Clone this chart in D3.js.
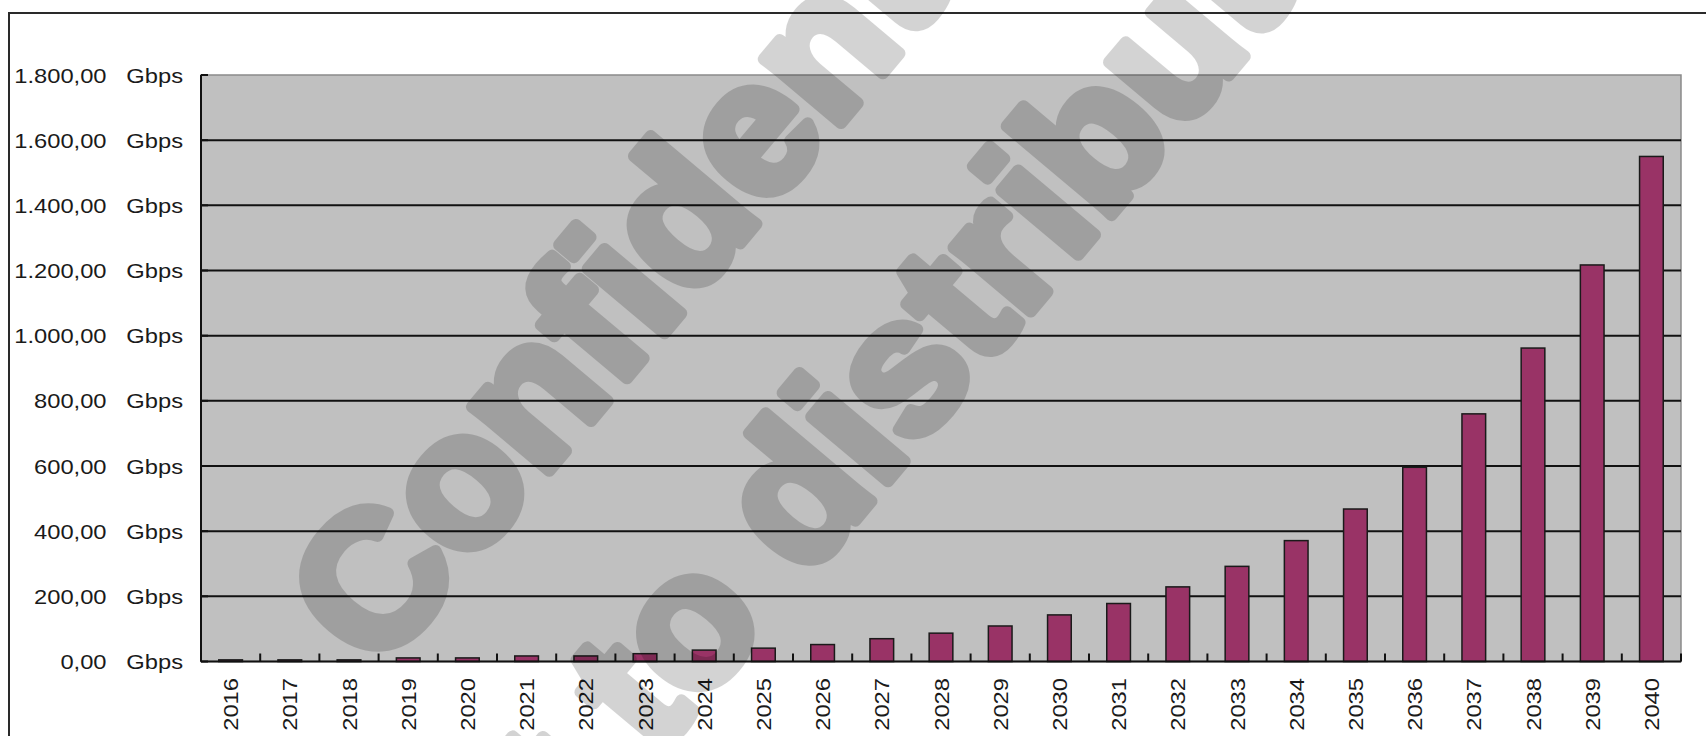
<!DOCTYPE html>
<html>
<head>
<meta charset="utf-8">
<script src="https://cdn.jsdelivr.net/npm/d3@7"></script>
<style>
  html, body { margin: 0; padding: 0; background: #ffffff; }
  svg { display: block; }
  text { font-family: "Liberation Sans", Arial, sans-serif; fill: #1a1a1a; }
</style>
</head>
<body>
<script>
// Projected bandwidth demand per year (Gbps)
const years = ["2016","2017","2018","2019","2020","2021","2022","2023","2024","2025","2026","2027","2028",
               "2029","2030","2031","2032","2033","2034","2035","2036","2037","2038","2039","2040"];
const traffic = [5, 5, 5, 11, 11, 17, 17, 24, 35, 41, 52, 70, 87,
                 109, 143, 178, 229, 292, 371, 468, 596, 760, 962, 1217, 1550];
const yTicks = [0, 200, 400, 600, 800, 1000, 1200, 1400, 1600, 1800];
const watermarkLines = ["Confidential", "not to distribute"];

const W = 1706, H = 736;
const plot = { left: 201, right: 1681, top: 75, bottom: 661.5 };

const svg = d3.select("body").append("svg")
  .attr("width", W).attr("height", H);

// frame around the chart
svg.append("rect")
  .attr("x", 9).attr("y", 13)
  .attr("width", W + 20).attr("height", H + 20)
  .attr("fill", "#ffffff").attr("stroke", "#2a2a2a").attr("stroke-width", 2);

const x = d3.scaleBand()
  .domain(years)
  .range([plot.left, plot.right])
  .paddingInner(0.6)
  .paddingOuter(0.3);

const y = d3.scaleLinear()
  .domain([0, 1800])
  .range([plot.bottom, plot.top]);

// plot background
svg.append("rect")
  .attr("x", plot.left).attr("y", plot.top)
  .attr("width", plot.right - plot.left).attr("height", plot.bottom - plot.top)
  .attr("fill", "#c0c0c0").attr("stroke", "#8a8a8a").attr("stroke-width", 1.5);

// horizontal gridlines
svg.append("g").selectAll("line")
  .data(yTicks.filter(v => v > 0 && v < 1800))
  .join("line")
  .attr("x1", plot.left).attr("x2", plot.right)
  .attr("y1", d => y(d)).attr("y2", d => y(d))
  .attr("stroke", "#111").attr("stroke-width", 2);

// y tick marks
svg.append("g").selectAll("line")
  .data(yTicks)
  .join("line")
  .attr("x1", plot.left).attr("x2", plot.left + 7)
  .attr("y1", d => y(d)).attr("y2", d => y(d))
  .attr("stroke", "#111").attr("stroke-width", 2);

// bars
svg.append("g").selectAll("rect")
  .data(years.map((yr, i) => ({ yr, v: traffic[i] })))
  .join("rect")
  .attr("x", d => x(d.yr))
  .attr("y", d => y(d.v))
  .attr("width", x.bandwidth())
  .attr("height", d => y(0) - y(d.v))
  .attr("fill", "#993366")
  .attr("stroke", "#1a1a1a")
  .attr("stroke-width", 1.5);

// axes lines
svg.append("line")
  .attr("x1", plot.left).attr("x2", plot.left)
  .attr("y1", plot.top).attr("y2", plot.bottom)
  .attr("stroke", "#111").attr("stroke-width", 2);
svg.append("line")
  .attr("x1", plot.left).attr("x2", plot.right)
  .attr("y1", plot.bottom).attr("y2", plot.bottom)
  .attr("stroke", "#111").attr("stroke-width", 2);

// x tick marks between categories
const step = x.step();
const boundaries = years.map(d => x(d) + x.bandwidth() / 2 - step / 2)
  .concat([x(years[years.length - 1]) + x.bandwidth() / 2 + step / 2]);
svg.append("g").selectAll("line")
  .data(boundaries)
  .join("line")
  .attr("x1", d => d).attr("x2", d => d)
  .attr("y1", plot.bottom).attr("y2", plot.bottom - 8)
  .attr("stroke", "#111").attr("stroke-width", 2);

// y labels
const locale = d3.formatLocale({ decimal: ",", thousands: ".", grouping: [3], currency: ["", ""] });
const fmt = locale.format(",.2f");
svg.append("g").selectAll("text")
  .data(yTicks)
  .join("text")
  .attr("transform", d => `translate(183,${y(d)}) scale(1.13,1)`)
  .attr("text-anchor", "end")
  .attr("dy", "0.36em")
  .attr("font-size", 21)
  .attr("xml:space", "preserve")
  .text(d => fmt(d) + "   Gbps");

// x labels, rotated
svg.append("g").selectAll("text")
  .data(years)
  .join("text")
  .attr("transform", d => `translate(${x(d) + x.bandwidth() / 2},678) rotate(-90) scale(1.13,1)`)
  .attr("text-anchor", "end")
  .attr("dy", "0.36em")
  .attr("font-size", 21)
  .text(d => d);

// watermark
const wmAnchors = [[378, 675], [432, 1025]];
const wm = svg.append("g").attr("opacity", 0.17);
wm.selectAll("text")
  .data(watermarkLines)
  .join("text")
  .attr("transform", (d, i) => `translate(${wmAnchors[i][0]},${wmAnchors[i][1]}) rotate(-50)`)
  .attr("text-anchor", "start")
  .attr("font-size", 190)
  .attr("font-weight", "bold")
  .style("fill", "#000")
  .attr("stroke", "#000")
  .attr("stroke-width", 12)
  .attr("stroke-linejoin", "round")
  .text(d => d);
</script>
</body>
</html>
